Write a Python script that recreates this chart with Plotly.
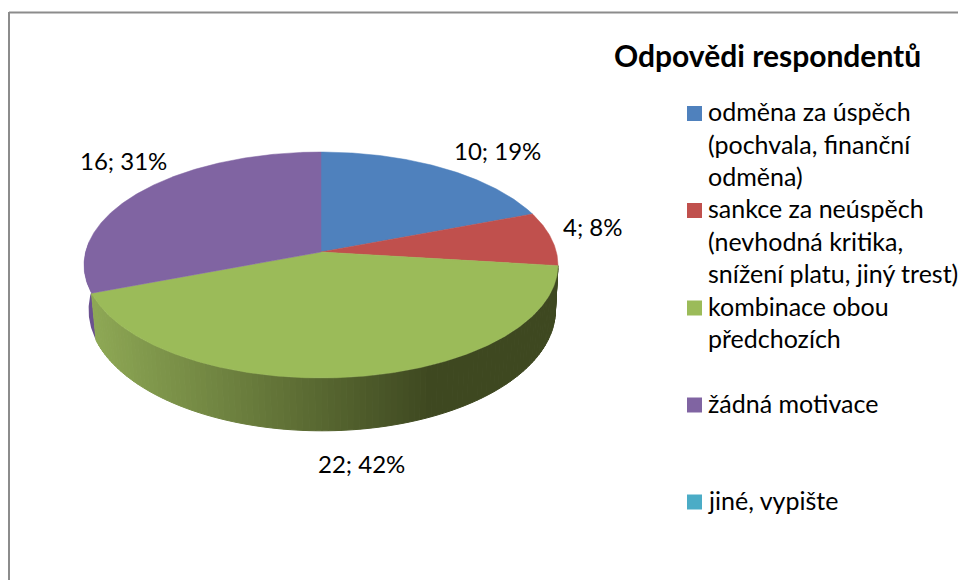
import math
import plotly.graph_objects as go

categories = [
    "odměna za úspěch (pochvala, finanční odměna)",
    "sankce za neúspěch (nevhodná kritika, snížení platu, jiný trest)",
    "kombinace obou předchozích",
    "žádná motivace",
    "jiné, vypište",
]
values = [10, 4, 22, 16, 0]
colors = ["#4f81bd", "#c0504d", "#9bbb59", "#8064a2", "#4bacc6"]
legend_lines = [
    ["odměna za úspěch", "(pochvala, finanční", "odměna)"],
    ["sankce za neúspěch", "(nevhodná kritika,", "snížení platu, jiný trest)"],
    ["kombinace obou", "předchozích"],
    ["žádná motivace"],
    ["jiné, vypište"],
]
title_text = "Odpovědi respondentů"

FONT = "Lato"
CX, CY, RX, RY, K = 321.0, 252.0, 235.4, 111.5, -0.115
total = sum(values)


def top_pt(a):
    u, v = math.sin(a), math.cos(a)
    d = 1 + (-K) * v
    return CX + RX * u / d, CY - RY * v / d


def bot_pt(a):
    x, y = top_pt(a)
    return CX + 1 + 0.985 * (x - CX), CY + 44 + 1.07 * (y - CY)


def arc(a0, a1, f):
    n = max(2, int(abs(a1 - a0) / math.radians(0.5)))
    return [f(a0 + (a1 - a0) * i / n) for i in range(n + 1)]


def mix(a, b, t):
    return "rgb(" + ",".join(str(round(p + (q - p) * t)) for p, q in zip(a, b)) + ")"


angles = []
acc = 0.0
for v in values:
    a0 = acc / total * 2 * math.pi
    acc += v
    angles.append((a0, acc / total * 2 * math.pi))

fig = go.Figure()


def poly(pts, color, lw=0.0):
    fig.add_trace(go.Scatter(
        x=[p[0] for p in pts] + [pts[0][0]], y=[p[1] for p in pts] + [pts[0][1]],
        mode="lines", fill="toself", fillcolor=color,
        line=dict(color=color, width=lw), hoverinfo="skip", showlegend=False))


# side wall: purple sliver, then shaded green strips
pa0, pa1 = angles[3]
poly(arc(pa0, math.radians(275), top_pt) + arc(math.radians(275), pa0, bot_pt), "#6b5190")
ga0, ga1 = angles[2]
LIGHT, DARK = (141, 167, 84), (62, 72, 32)
n_strips = 110
for i in range(n_strips):
    a = ga0 + (ga1 - ga0) * i / n_strips
    b = ga0 + (ga1 - ga0) * (i + 1) / n_strips
    xm = (top_pt((a + b) / 2)[0])
    t = min(1, max(0, (xm - 95) / (430 - 95)))
    poly(arc(a, b, top_pt) + arc(b, a, bot_pt), mix(LIGHT, DARK, t), 1)

# top face
for (a0, a1), c, v in zip(angles, colors, values):
    if v:
        poly([(CX, CY)] + arc(a0, a1, top_pt), c, 0.5)

# legend swatches
swatch_y = [113.5, 210.5, 308, 405, 502]
for yy, c, name in zip(swatch_y, colors, categories):
    fig.add_trace(go.Scatter(x=[694.5], y=[yy], mode="markers", name=name,
                             marker=dict(symbol="square", size=15, color=c),
                             hoverinfo="name", showlegend=False))

anns = []
label_pos = [(497, 150), (593, 226), (361, 463), (123, 160)]
for v, (x, y) in zip(values, label_pos):
    anns.append(dict(x=x, y=y, text=f"{v}; {round(v / total * 100)}%", showarrow=False,
                     xanchor="center", yanchor="middle",
                     font=dict(family=FONT, size=24, color="#000000")))
for lines, y0 in zip(legend_lines, swatch_y):
    for j, line in enumerate(lines):
        anns.append(dict(x=708, y=y0 - 2.5 + j * 32.5, text=line, showarrow=False,
                         xanchor="left", yanchor="middle", xshift=-2,
                         font=dict(family=FONT, size=25, color="#000000")))
anns.append(dict(x=767.5, y=55, text=f"<b>{title_text}</b>", showarrow=False,
                 xanchor="center", yanchor="middle",
                 font=dict(family=FONT, size=30, color="#000000")))

fig.update_layout(
    width=958, height=580, margin=dict(l=0, r=0, t=0, b=0),
    paper_bgcolor="#ffffff", plot_bgcolor="#ffffff", showlegend=False,
    xaxis=dict(range=[0, 958], visible=False, fixedrange=True),
    yaxis=dict(range=[580, 0], visible=False, fixedrange=True),
    annotations=anns,
    shapes=[
        dict(type="line", x0=9, x1=958, y0=12.5, y1=12.5, line=dict(color="#8c8c8c", width=2)),
        dict(type="line", x0=9, x1=9, y0=12, y1=580, line=dict(color="#8c8c8c", width=2)),
    ],
)
fig.write_html("out.html", config={"displayModeBar": False},
               post_script="document.body.style.margin='0';document.body.style.overflow='hidden';")
